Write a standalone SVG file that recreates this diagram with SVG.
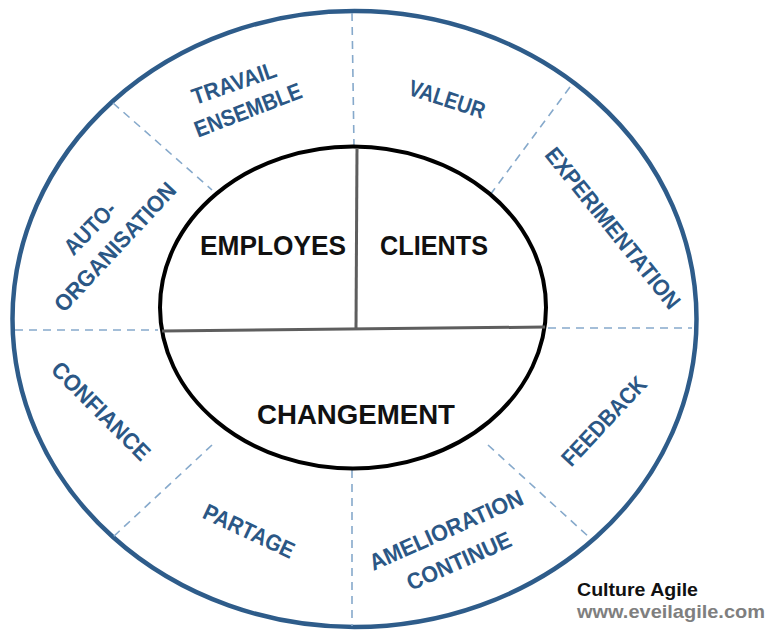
<svg xmlns="http://www.w3.org/2000/svg" width="771" height="632" viewBox="0 0 771 632">
<style>
.lbl{font-family:"Liberation Sans",Arial,sans-serif;font-weight:bold;font-size:23px;fill:#2B5785;text-anchor:middle}
.core{font-family:"Liberation Sans",Arial,sans-serif;font-weight:bold;font-size:27px;fill:#111;text-anchor:middle}
.dash{stroke:#86A9CB;stroke-width:1.6;stroke-dasharray:8 6;fill:none}
.div{stroke:#5E5E5E;stroke-width:3;fill:none}
</style>
<rect width="771" height="632" fill="#fff"/>
<g id="outer-ring">
<ellipse cx="354.5" cy="319" rx="342" ry="308" fill="none" stroke="#2E5C8A" stroke-width="4.5"/>
</g>
<g id="connectors">
<line class="dash" x1="352" y1="13" x2="354" y2="147"/>
<line class="dash" x1="352" y1="470" x2="352" y2="626"/>
<line class="dash" x1="15" y1="330" x2="158" y2="330"/>
<line class="dash" x1="548" y1="328" x2="692" y2="328"/>
<line class="dash" x1="113" y1="103" x2="212" y2="190"/>
<line class="dash" x1="570" y1="87" x2="490" y2="195"/>
<line class="dash" x1="212" y1="445" x2="113" y2="537"/>
<line class="dash" x1="488" y1="445" x2="590" y2="538"/>
</g>
<g id="core">
<ellipse cx="353" cy="307.5" rx="193" ry="161" fill="#fff" stroke="#000" stroke-width="4"/>
<line class="div" x1="357" y1="148" x2="356" y2="329"/>
<line class="div" x1="162" y1="331" x2="545" y2="327"/>
</g>
<g id="employes"><text class="core" x="273" y="255" textLength="146" lengthAdjust="spacingAndGlyphs">EMPLOYES</text></g>
<g id="clients"><text class="core" x="434" y="255" textLength="108" lengthAdjust="spacingAndGlyphs">CLIENTS</text></g>
<g id="changement"><text class="core" x="356" y="424" textLength="198" lengthAdjust="spacingAndGlyphs">CHANGEMENT</text></g>
<g id="travail-ensemble">
<text class="lbl" transform="translate(234,83) rotate(-19)" y="8" textLength="88" lengthAdjust="spacingAndGlyphs">TRAVAIL</text>
<text class="lbl" transform="translate(248,110) rotate(-21)" y="8" textLength="113" lengthAdjust="spacingAndGlyphs">ENSEMBLE</text>
</g>
<g id="valeur"><text class="lbl" transform="translate(447,99) rotate(18)" y="8" textLength="79" lengthAdjust="spacingAndGlyphs">VALEUR</text></g>
<g id="experimentation"><text class="lbl" transform="translate(613,228) rotate(51)" y="8" textLength="200" lengthAdjust="spacingAndGlyphs">EXPERIMENTATION</text></g>
<g id="auto-organisation">
<text class="lbl" transform="translate(90,228) rotate(-46)" y="8" textLength="64" lengthAdjust="spacingAndGlyphs">AUTO-</text>
<text class="lbl" transform="translate(115,247) rotate(-47)" y="8" textLength="167" lengthAdjust="spacingAndGlyphs">ORGANISATION</text>
</g>
<g id="confiance"><text class="lbl" transform="translate(101,411) rotate(45)" y="8" textLength="129" lengthAdjust="spacingAndGlyphs">CONFIANCE</text></g>
<g id="partage"><text class="lbl" transform="translate(249,531) rotate(25)" y="8" textLength="98" lengthAdjust="spacingAndGlyphs">PARTAGE</text></g>
<g id="amelioration-continue">
<text class="lbl" transform="translate(446,530) rotate(-24)" y="8" textLength="166" lengthAdjust="spacingAndGlyphs">AMELIORATION</text>
<text class="lbl" transform="translate(459,561) rotate(-24)" y="8" textLength="112" lengthAdjust="spacingAndGlyphs">CONTINUE</text>
</g>
<g id="feedback"><text class="lbl" transform="translate(604,421) rotate(-47)" y="8" textLength="113" lengthAdjust="spacingAndGlyphs">FEEDBACK</text></g>
<g id="caption">
<text x="577" y="596" font-family="Liberation Sans,Arial,sans-serif" font-weight="bold" font-size="18" fill="#111" textLength="121" lengthAdjust="spacingAndGlyphs">Culture Agile</text>
<text x="577" y="618" font-family="Liberation Sans,Arial,sans-serif" font-weight="bold" font-size="19" fill="#7F7F7F" textLength="188" lengthAdjust="spacingAndGlyphs">www.eveilagile.com</text>
</g>
</svg>
